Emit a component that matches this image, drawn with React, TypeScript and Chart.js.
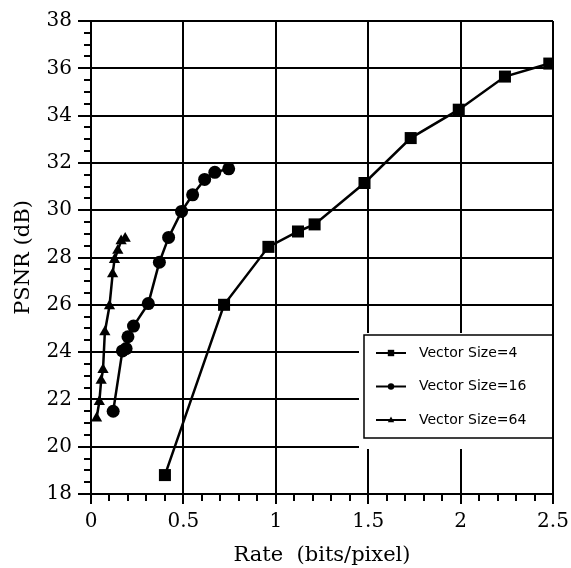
import React, { useEffect, useRef } from 'react';
import { Chart, registerables } from 'chart.js';

Chart.register(...registerables);

// ---- data ----
const seriesLabels = ['Vector Size=4', 'Vector Size=16', 'Vector Size=64'];

const rate4 = [0.40, 0.72, 0.96, 1.12, 1.21, 1.48, 1.73, 1.99, 2.24, 2.48];
const psnr4 = [18.8, 26.0, 28.45, 29.1, 29.4, 31.15, 33.05, 34.25, 35.65, 36.2];

const rate16 = [0.12, 0.17, 0.19, 0.20, 0.23, 0.31, 0.37, 0.42, 0.49, 0.55, 0.615, 0.67, 0.745];
const psnr16 = [21.5, 24.05, 24.15, 24.65, 25.1, 26.05, 27.8, 28.85, 29.95, 30.65, 31.3, 31.6, 31.75];

const rate64 = [0.03, 0.045, 0.055, 0.065, 0.075, 0.10, 0.117, 0.127, 0.145, 0.163, 0.185];
const psnr64 = [21.2, 21.9, 22.8, 23.25, 24.85, 25.95, 27.3, 27.9, 28.3, 28.7, 28.8];

const xTicks = [0, 0.5, 1, 1.5, 2, 2.5];
const xTickLabels = ['0', '0.5', '1', '1.5', '2', '2.5'];
const yTicks = [18, 20, 22, 24, 26, 28, 30, 32, 34, 36, 38];
const yTickLabels = ['18', '20', '22', '24', '26', '28', '30', '32', '34', '36', '38'];
const xMinorCount = 25; // 0.1 steps
const yMinorCount = 40; // 0.5 steps

const xTitle = 'Rate  (bits/pixel)';
const yTitle = 'PSNR (dB)';

const pointStyles = ['rect', 'circle', 'triangle'];
const pointRadii = [8.5, 6.5, 6.5];

const toPoints = (xs: number[], ys: number[]) => xs.map((x, i) => ({ x, y: ys[i] }));

const minorTicksPlugin = {
  id: 'minorTicks',
  afterDraw(chart: any) {
    const { ctx, chartArea, scales } = chart;
    const xs = scales.x;
    const ys = scales.y;
    ctx.save();
    ctx.strokeStyle = '#000';
    ctx.lineWidth = 2;
    for (let i = 0; i <= yMinorCount; i++) {
      if (i % 4 === 0) continue;
      const v = yTicks[0] + i * 0.5;
      const py = Math.round(ys.getPixelForValue(v));
      ctx.beginPath();
      ctx.moveTo(chartArea.left - 7, py);
      ctx.lineTo(chartArea.left, py);
      ctx.stroke();
    }
    for (let i = 0; i <= xMinorCount; i++) {
      if (i % 5 === 0) continue;
      const v = i * 0.1;
      const px = Math.round(xs.getPixelForValue(v));
      ctx.beginPath();
      ctx.moveTo(px, chartArea.bottom);
      ctx.lineTo(px, chartArea.bottom + 7);
      ctx.stroke();
    }
    ctx.restore();
  },
};

function drawMarker(ctx: CanvasRenderingContext2D, style: string, x: number, y: number, r: number) {
  ctx.beginPath();
  if (style === 'rect') {
    ctx.rect(x - r, y - r, 2 * r, 2 * r);
  } else if (style === 'circle') {
    ctx.arc(x, y, r, 0, Math.PI * 2);
  } else {
    ctx.moveTo(x, y - r * 1.1);
    ctx.lineTo(x + r, y + r * 0.7);
    ctx.lineTo(x - r, y + r * 0.7);
    ctx.closePath();
  }
  ctx.fill();
}

const legendBoxPlugin = {
  id: 'legendBox',
  beforeDatasetsDraw(chart: any) {
    const { ctx, chartArea } = chart;
    const right = chartArea.right;
    const left = right - 189;
    const top = chartArea.top + 314;
    const bottom = top + 103;
    ctx.save();
    ctx.fillStyle = '#fff';
    ctx.fillRect(left - 5, top - 2, right - 1 - (left - 5), bottom + 11 - (top - 2));
    ctx.strokeStyle = '#000';
    ctx.lineWidth = 1.5;
    ctx.strokeRect(left, top, right - left, bottom - top);
    ctx.font = '14px "DejaVu Sans"';
    ctx.textBaseline = 'middle';
    ctx.fillStyle = '#000';
    seriesLabels.forEach((label, i) => {
      const cy = top + 18 + i * 33.5;
      ctx.beginPath();
      ctx.moveTo(left + 12, cy);
      ctx.lineTo(left + 42, cy);
      ctx.lineWidth = 2;
      ctx.stroke();
      drawMarker(ctx, pointStyles[i], left + 27, cy, 3.2);
      ctx.fillText(label, left + 55, cy);
    });
    ctx.restore();
  },
};

export default function App() {
  const canvasRef = useRef<HTMLCanvasElement | null>(null);

  useEffect(() => {
    if (!canvasRef.current) return;
    Chart.defaults.font.family = '"DejaVu Serif"';
    Chart.defaults.color = '#000';
    const mk = (i: number, xs: number[], ys: number[]) => ({
      label: seriesLabels[i],
      data: toPoints(xs, ys),
      borderColor: '#000',
      backgroundColor: '#000',
      borderWidth: 2.5,
      pointStyle: pointStyles[i],
      pointRadius: pointRadii[i],
      pointBorderWidth: 0,
      pointBackgroundColor: '#000',
      tension: 0,
    });
    const chart = new Chart(canvasRef.current, {
      type: 'line',
      data: {
        datasets: [mk(0, rate4, psnr4), mk(1, rate16, psnr16), mk(2, rate64, psnr64)] as any,
      },
      plugins: [minorTicksPlugin, legendBoxPlugin],
      options: {
        animation: false,
        responsive: true,
        maintainAspectRatio: false,
        layout: { padding: { left: 0, right: 18, top: 21, bottom: 0 } },
        plugins: { legend: { display: false }, tooltip: { enabled: false } },
        scales: {
          x: {
            type: 'linear',
            min: 0,
            max: 2.5,
            afterBuildTicks: (s: any) => {
              s.ticks = xTicks.map((v) => ({ value: v }));
            },
            afterFit: (s: any) => {
              s.height = 74;
              s.paddingLeft = 0;
              s.paddingRight = 0;
            },
            ticks: {
              autoSkip: false,
              maxRotation: 0,
              padding: 6,
              font: { size: 20 },
              callback: (v: any) => xTickLabels[xTicks.indexOf(Number(v))] ?? '',
            },
            grid: { color: '#000', lineWidth: 2, tickLength: 10 },
            border: { display: true, color: '#000', width: 2 },
            title: {
              display: true,
              text: xTitle,
              font: { size: 21 },
              padding: { top: 0, bottom: 0 },
            },
          },
          y: {
            type: 'linear',
            min: 18,
            max: 38,
            afterBuildTicks: (s: any) => {
              s.ticks = yTicks.map((v) => ({ value: v }));
            },
            afterFit: (s: any) => {
              s.width = 91;
              s.paddingTop = 0;
              s.paddingBottom = 0;
            },
            ticks: {
              autoSkip: false,
              padding: 6,
              font: { size: 20 },
              callback: (v: any) => yTickLabels[yTicks.indexOf(Number(v))] ?? '',
            },
            grid: { color: '#000', lineWidth: 2, tickLength: 13 },
            border: { display: true, color: '#000', width: 2 },
            title: {
              display: true,
              text: yTitle,
              font: { size: 21 },
              padding: { top: 11, bottom: 0 },
            },
          },
        },
      },
    });
    return () => chart.destroy();
  }, []);

  return (
    <div style={{ position: 'fixed', left: 0, top: 0, width: 571, height: 568, background: '#fff' }}>
      <canvas ref={canvasRef} />
    </div>
  );
}
